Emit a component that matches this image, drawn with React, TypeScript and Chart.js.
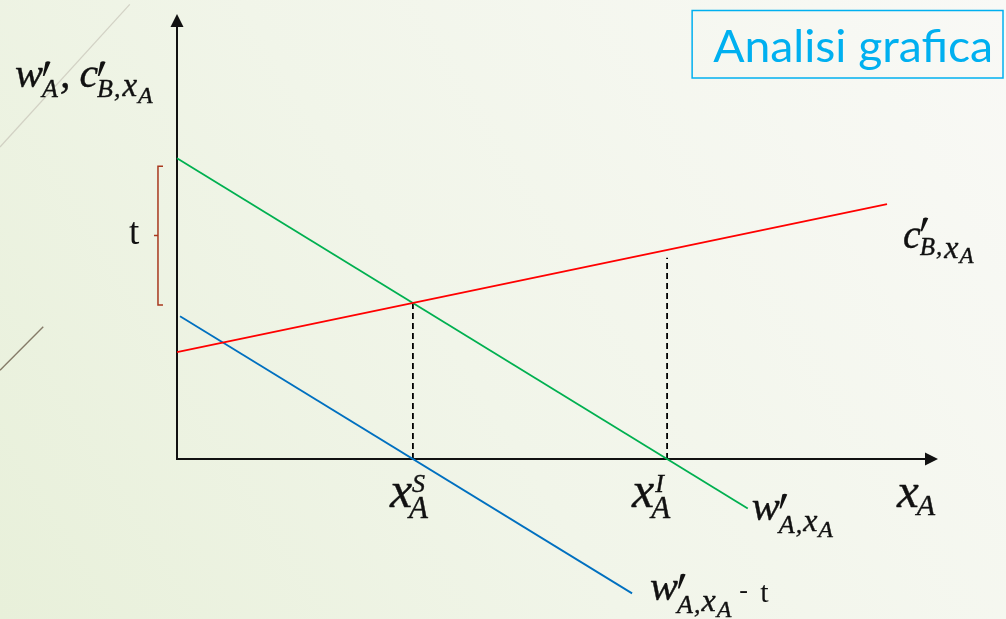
import React, { useEffect, useRef } from "react";
import { Chart, registerables } from "chart.js";
Chart.register(...registerables);

// ---- data (abstract units: origin of the diagram at 0,0) ----
const axisXEnd = 10; // length of x axis (arrow tip)
const axisYEnd = 10; // length of y axis (arrow tip)
const wPrimeX = [0, 7.5]; // w'_{A,xA}
const wPrimeY = [6.76, -1.11];
const cPrimeX = [0, 9.33]; // c'_{B,xA}
const cPrimeY = [2.4, 5.725];
const wMinusTX = [0.04, 5.98]; // w'_{A,xA} - t
const wMinusTY = [3.21, -3.02];
const xSValue = 3.1; // x_A^S
const xSTop = 3.5;
const xIValue = 6.44; // x_A^I
const xITop = 4.52;
const tBracketY = [3.46, 6.58];
const tBracketX = -0.25;
const titleText = "Analisi grafica";

const MATH = '"Liberation Serif", "Times New Roman", serif';

function zip(xs: number[], ys: number[]) {
  return xs.map((x, i) => ({ x, y: ys[i] }));
}

// draws text and returns its advance width
function put(ctx: CanvasRenderingContext2D, s: string, x: number, y: number, size: number, italic = true, heavy = 0.4) {
  ctx.font = `${italic ? "italic " : ""}${size}px ${MATH}`;
  ctx.fillText(s, x, y);
  if (heavy > 0) {
    ctx.lineWidth = heavy;
    ctx.strokeText(s, x, y);
  }
  return ctx.measureText(s).width;
}

function prime(ctx: CanvasRenderingContext2D, x: number, yTop: number, yBot: number) {
  ctx.beginPath();
  ctx.moveTo(x + 3.5, yTop);
  ctx.quadraticCurveTo(x + 6, yTop - 1.5, x + 8.5, yTop);
  ctx.lineTo(x + 2.4, yBot);
  ctx.lineTo(x + 0.8, yBot);
  ctx.closePath();
  ctx.fill();
}

// w'_{A,xA} with optional trailing "- t"
function wLabel(ctx: CanvasRenderingContext2D, x0: number, b: number, minusT: boolean) {
  let x = x0;
  x += put(ctx, "w", x, b, 42);
  prime(ctx, x - 1, b - 26, b - 12);
  x += put(ctx, "A", x - 1, b + 13, 26);
  x += put(ctx, ",", x, b + 13, 26) + 1;
  x += put(ctx, "x", x, b + 11, 32) + 1;
  x += put(ctx, "A", x, b + 17, 24);
  if (minusT) {
    x += 8;
    put(ctx, "-", x, b - 2, 26, false, 0);
    put(ctx, "t", x + 21, b + 2, 30, false, 0);
  }
}

const decorPlugin = {
  id: "decor",
  beforeDraw(chart: any) {
    const { ctx, width, height } = chart;
    ctx.save();
    const g = ctx.createLinearGradient(0, height, width, 0);
    g.addColorStop(0, "#E8F0DA");
    g.addColorStop(0.45, "#F1F5E9");
    g.addColorStop(1, "#F9F9F6");
    ctx.fillStyle = g;
    ctx.fillRect(0, 0, width, height);
    // decorative strokes at the left edge
    ctx.lineWidth = 1.2;
    ctx.strokeStyle = "rgba(200,198,185,0.75)";
    ctx.beginPath();
    ctx.moveTo(0, height * 0.2375);
    ctx.lineTo(width * 0.129, height * 0.007);
    ctx.stroke();
    ctx.strokeStyle = "#857B68";
    ctx.lineWidth = 1.4;
    ctx.beginPath();
    ctx.moveTo(0, height * 0.598);
    ctx.lineTo(width * 0.043, height * 0.528);
    ctx.stroke();
    ctx.restore();
  },
  beforeDatasetsDraw(chart: any) {
    const { ctx, scales } = chart;
    const sx = scales.x, sy = scales.y;
    const ox = sx.getPixelForValue(0), oy = sy.getPixelForValue(0);
    const xe = sx.getPixelForValue(axisXEnd), ye = sy.getPixelForValue(axisYEnd);
    ctx.save();
    ctx.strokeStyle = "#111";
    ctx.fillStyle = "#111";
    ctx.lineWidth = 2;
    ctx.beginPath();
    ctx.moveTo(ox, oy + 1);
    ctx.lineTo(ox, ye + 10);
    ctx.moveTo(ox - 1, oy);
    ctx.lineTo(xe - 10, oy);
    ctx.stroke();
    ctx.beginPath();
    ctx.moveTo(ox, ye);
    ctx.lineTo(ox - 6.5, ye + 13);
    ctx.lineTo(ox + 6.5, ye + 13);
    ctx.closePath();
    ctx.fill();
    ctx.beginPath();
    ctx.moveTo(xe, oy);
    ctx.lineTo(xe - 13, oy - 6.5);
    ctx.lineTo(xe - 13, oy + 6.5);
    ctx.closePath();
    ctx.fill();
    ctx.restore();
  },
  afterDatasetsDraw(chart: any) {
    const { ctx, scales, width } = chart;
    const sx = scales.x, sy = scales.y;
    const px = (v: number) => sx.getPixelForValue(v);
    const py = (v: number) => sy.getPixelForValue(v);
    ctx.save();
    ctx.textBaseline = "alphabetic";

    // t bracket
    const bx = px(tBracketX);
    const bTop = py(tBracketY[1]), bBot = py(tBracketY[0]);
    const bMid = (bTop + bBot) / 2;
    ctx.strokeStyle = "#A8381E";
    ctx.lineWidth = 1.5;
    ctx.beginPath();
    ctx.moveTo(bx + 5, bTop);
    ctx.lineTo(bx, bTop);
    ctx.lineTo(bx, bBot);
    ctx.lineTo(bx + 5, bBot);
    ctx.moveTo(bx, bMid);
    ctx.lineTo(bx - 4, bMid);
    ctx.stroke();

    ctx.fillStyle = "#111";
    ctx.strokeStyle = "#111";
    put(ctx, "t", bx - 29, bMid + 8, 37, false, 0);

    // y axis label  w'_A, c'_{B,xA}
    {
      let x = px(0) - 162;
      const b = py(axisYEnd) + 73;
      x += put(ctx, "w", x, b, 42);
      prime(ctx, x - 1, b - 25, b - 11);
      x += put(ctx, "A", x - 1, b + 10, 26) + 1;
      x += put(ctx, ",", x, b, 42) + 9;
      x += put(ctx, "c", x, b, 42);
      prime(ctx, x - 1, b - 25, b - 11);
      x += put(ctx, "B", x - 1, b + 10, 26);
      x += put(ctx, ",", x, b + 10, 26) + 2;
      x += put(ctx, "x", x, b + 9, 33) + 1;
      put(ctx, "A", x, b + 16, 24);
    }
    // c'_{B,xA} label at the end of the red line
    {
      let x = px(cPrimeX[1]) + 16;
      const b = py(cPrimeY[1]) + 44;
      x += put(ctx, "c", x, b, 40);
      prime(ctx, x - 1, b - 30, b - 17);
      x += put(ctx, "B", x - 1, b + 7, 25);
      x += put(ctx, ",", x, b + 7, 25) + 2;
      x += put(ctx, "x", x, b + 10, 32) + 1;
      put(ctx, "A", x, b + 15, 23);
    }
    // x_A^S and x_A^I
    {
      const b = py(0) + 48;
      let x = px(xSValue) - 23;
      x += put(ctx, "x", x, b, 50);
      put(ctx, "S", x, b - 15, 26);
      put(ctx, "A", x - 3, b + 11, 31);
      x = px(xIValue) - 35;
      x += put(ctx, "x", x, b, 50);
      put(ctx, "I", x + 1, b - 15, 26);
      put(ctx, "A", x - 3, b + 11, 31);
    }
    // x_A axis label
    {
      let x = px(axisXEnd) - 41;
      const b = py(0) + 48;
      x += put(ctx, "x", x, b, 49);
      put(ctx, "A", x - 2, b + 8, 30);
    }
    // w'_{A,xA} labels at the end of green and blue lines
    wLabel(ctx, px(wPrimeX[1]) + 4, py(wPrimeY[1]) + 12, false);
    wLabel(ctx, px(wMinusTX[1]) + 18, py(wMinusTY[1]) + 7, true);

    // title box
    {
      const left = width * 0.688, top = 10.5, right = width - 3, bottom = 78;
      ctx.strokeStyle = "#00B0F0";
      ctx.lineWidth = 1.5;
      ctx.strokeRect(left, top, right - left, bottom - top);
      ctx.fillStyle = "#00B0F0";
      ctx.font = '400 44px "Lato", sans-serif';
      const w = ctx.measureText(titleText).width;
      const target = 280;
      ctx.translate(left + 21, 62);
      ctx.scale(target / w, 1);
      ctx.fillText(titleText, 0, 0);
    }
    ctx.restore();
  },
};

export default function App() {
  const ref = useRef<HTMLCanvasElement | null>(null);
  useEffect(() => {
    document.body.style.margin = "0";
    const canvas = ref.current!;
    const chart = new Chart(canvas, {
      type: "scatter",
      data: {
        datasets: [
          { data: zip(cPrimeX, cPrimeY), borderColor: "#FF0000", borderWidth: 1.8, showLine: true, pointRadius: 0 },
          { data: zip(wPrimeX, wPrimeY), borderColor: "#00B050", borderWidth: 1.8, showLine: true, pointRadius: 0 },
          { data: zip(wMinusTX, wMinusTY), borderColor: "#0070C0", borderWidth: 1.8, showLine: true, pointRadius: 0 },
          { data: zip([xSValue, xSValue], [0, xSTop]), borderColor: "#000", borderWidth: 1.8, borderDash: [6, 4], showLine: true, pointRadius: 0 },
          { data: zip([xIValue, xIValue], [0, xITop]), borderColor: "#000", borderWidth: 1.8, borderDash: [6, 4], showLine: true, pointRadius: 0 },
        ],
      },
      options: {
        animation: false,
        responsive: false,
        events: [],
        layout: { padding: 0 },
        plugins: { legend: { display: false }, tooltip: { enabled: false }, title: { display: false } },
        scales: {
          x: { type: "linear", min: -2.3259, max: 10.8935, display: false },
          y: { type: "linear", min: -3.5955, max: 10.3146, display: false },
        },
      },
      plugins: [decorPlugin],
    });
    return () => chart.destroy();
  }, []);
  return (
    <div style={{ width: 1006, height: 619 }}>
      <canvas ref={ref} width={1006} height={619} style={{ display: "block" }} />
    </div>
  );
}
